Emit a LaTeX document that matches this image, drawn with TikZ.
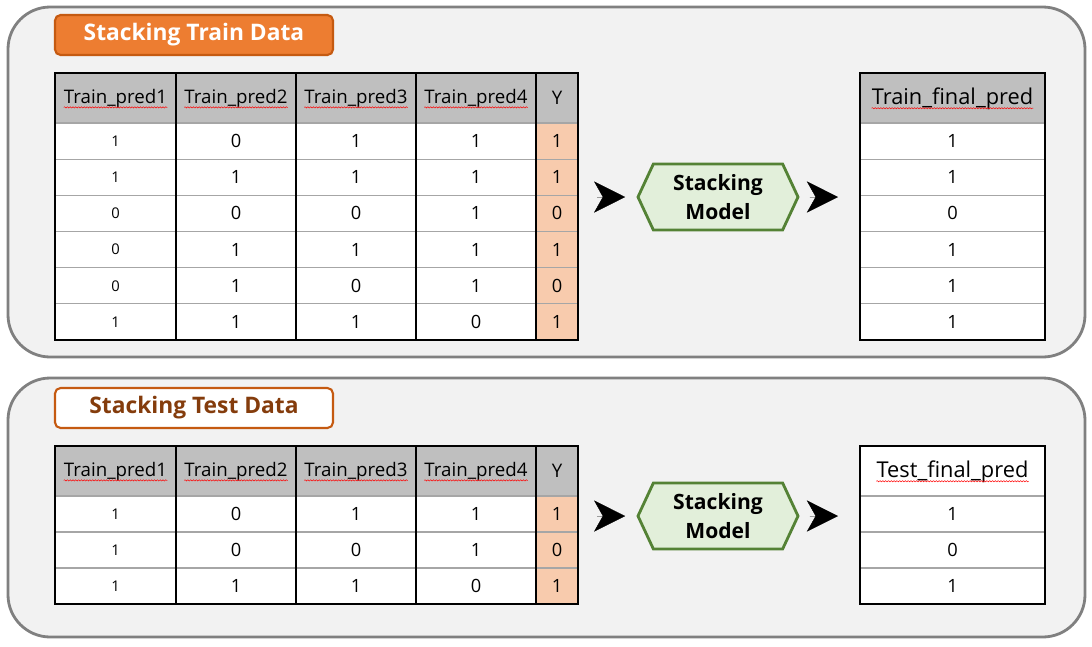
\documentclass[tikz,border=0pt]{standalone}
\usepackage{fontspec}
\setmainfont{Open Sans}
\usetikzlibrary{shapes.symbols,decorations.pathmorphing,arrows.meta}

\definecolor{panelgray}{HTML}{F2F2F2}
\definecolor{paneledge}{HTML}{808080}
\definecolor{headgray}{HTML}{BFBFBF}
\definecolor{ycol}{HTML}{F8CBAD}
\definecolor{orangefill}{HTML}{ED7D31}
\definecolor{orangeedge}{HTML}{C55A11}
\definecolor{titlebrown}{HTML}{843C0C}
\definecolor{modelfill}{HTML}{E2EFDA}
\definecolor{modeledge}{HTML}{548235}
\definecolor{rowline}{HTML}{A6A6A6}

\tikzset{
  panel/.style={draw=paneledge, line width=2pt, fill=panelgray, rounded corners=30pt},
  titlebox/.style={draw=orangeedge, line width=1.5pt, rounded corners=4pt,
    minimum width=6.95cm, minimum height=1cm, font=\fontsize{16.2}{19}\selectfont\bfseries},
  model/.style={signal, signal to=west and east, signal pointer angle=130,
    draw=modeledge, fill=modelfill, line width=2pt, minimum width=4cm, minimum height=1.65cm,
    inner sep=0pt, align=center, font=\fontsize{15}{21}\selectfont\bfseries},
  headtext/.style={inner sep=0pt, font=\fontsize{13.3}{16}\selectfont},
  celltext/.style={inner sep=0pt, font=\fontsize{13}{16}\selectfont},
  firsttext/.style={inner sep=0pt, font=\fontsize{10.5}{13}\selectfont},
  finaltext/.style={inner sep=0pt, font=\fontsize{15.5}{18}\selectfont},
  rowsep/.style={draw=rowline, line width=0.8pt},
  colsep/.style={draw=black, line width=0.8pt},
  tableedge/.style={draw=black, line width=1.2pt},
  squig/.style={draw=red, line width=0.35pt, decorate,
    decoration={snake, amplitude=0.45pt, segment length=2pt}},
  chev/.style={-{Stealth[length=0.78cm, width=0.78cm, inset=0.22cm, line width=0.3pt]}, line width=0.01pt}
}

\begin{document}
\begin{tikzpicture}[x=0.025cm, y=-0.025cm]
\useasboundingbox (0,0) rectangle (1092,646);

% panels
\draw[panel] (8,7) rectangle (1085,357);
\draw[panel] (8,378) rectangle (1085,637);

% titles
\node[titlebox, fill=orangefill, text=white] (trainTitle) at (194,35) {Stacking Train Data};
\node[titlebox, fill=white, text=titlebrown] (testTitle) at (194,408) {Stacking Test Data};

% ---- train table
\fill[headgray] (55,73) rectangle (578,123);
\fill[white] (55,123) rectangle (536,340);
\fill[ycol] (536,123) rectangle (578,340);
\foreach \r in {0,...,5}
  \draw[rowsep] (55,{123+36.17*\r}) -- (578,{123+36.17*\r});
\foreach \x in {176,296,416,536}
  \draw[colsep] (\x,73) -- (\x,340);
\draw[tableedge] (55,73) rectangle (578,340);

\foreach \t/\x [count=\i] in {Train\_pred1/115.5, Train\_pred2/236, Train\_pred3/356, Train\_pred4/476} {
  \node[headtext] (trh\i) at (\x,99) {\t};
  \draw[squig] ([yshift=-2.5pt]trh\i.base west) -- ([yshift=-2.5pt]trh\i.base east);
}
\node[headtext] (trhY) at (557,98) {Y};

\foreach \a/\b/\c/\d/\y [count=\r] in {1/0/1/1/1, 1/1/1/1/1, 0/0/0/1/0, 0/1/1/1/1, 0/1/0/1/0, 1/1/1/0/1} {
  \node[firsttext] (tr\r a) at (115.5,{123+36.17*(\r-0.5)}) {\a};
  \node[celltext] (tr\r b) at (236,{123+36.17*(\r-0.5)}) {\b};
  \node[celltext] (tr\r c) at (356,{123+36.17*(\r-0.5)}) {\c};
  \node[celltext] (tr\r d) at (476,{123+36.17*(\r-0.5)}) {\d};
  \node[celltext] (tr\r y) at (557,{123+36.17*(\r-0.5)}) {\y};
}

% train result
\fill[headgray] (860,73) rectangle (1045,123);
\fill[white] (860,123) rectangle (1045,340);
\foreach \r in {0,...,5}
  \draw[rowsep] (860,{123+36.17*\r}) -- (1045,{123+36.17*\r});
\draw[tableedge] (860,73) rectangle (1045,340);
\node[finaltext] (trFinal) at (952.5,99) {Train\_final\_pred};
\draw[squig] ([yshift=-2.5pt]trFinal.base west) -- ([yshift=-2.5pt]trFinal.base east);
\foreach \v [count=\r] in {1,1,0,1,1,1}
  \node[celltext] (trf\r) at (952.5,{123+36.17*(\r-0.5)}) {\v};

% train model
\node[model] (trainModel) at (718,197) {Stacking\\Model};
\coordinate (trainE) at (578,197);
\coordinate (trFinalW) at (860,197);
\draw[chev, shorten <=0.48cm, shorten >=0.28cm] (trainE) -- (trainModel.west);
\draw[chev, shorten <=0.25cm, shorten >=0.55cm] (trainModel.east) -- (trFinalW);

% ---- test table
\fill[headgray] (55,446) rectangle (578,496);
\fill[white] (55,496) rectangle (536,604);
\fill[ycol] (536,496) rectangle (578,604);
\foreach \r in {0,...,2}
  \draw[rowsep] (55,{496+36*\r}) -- (578,{496+36*\r});
\foreach \x in {176,296,416,536}
  \draw[colsep] (\x,446) -- (\x,604);
\draw[tableedge] (55,446) rectangle (578,604);

\foreach \t/\x [count=\i] in {Train\_pred1/115.5, Train\_pred2/236, Train\_pred3/356, Train\_pred4/476} {
  \node[headtext] (teh\i) at (\x,472) {\t};
  \draw[squig] ([yshift=-2.5pt]teh\i.base west) -- ([yshift=-2.5pt]teh\i.base east);
}
\node[headtext] (tehY) at (557,471) {Y};

\foreach \a/\b/\c/\d/\y [count=\r] in {1/0/1/1/1, 1/0/0/1/0, 1/1/1/0/1} {
  \node[firsttext] (te\r a) at (115.5,{496+36*(\r-0.5)}) {\a};
  \node[celltext] (te\r b) at (236,{496+36*(\r-0.5)}) {\b};
  \node[celltext] (te\r c) at (356,{496+36*(\r-0.5)}) {\c};
  \node[celltext] (te\r d) at (476,{496+36*(\r-0.5)}) {\d};
  \node[celltext] (te\r y) at (557,{496+36*(\r-0.5)}) {\y};
}

% test result
\fill[white] (860,446) rectangle (1045,604);
\foreach \r in {0,...,2}
  \draw[rowsep] (860,{496+36*\r}) -- (1045,{496+36*\r});
\draw[tableedge] (860,446) rectangle (1045,604);
\node[finaltext] (teFinal) at (952.5,472) {Test\_final\_pred};
\draw[squig] ([yshift=-2.5pt]teFinal.base west) -- ([yshift=-2.5pt]teFinal.base east);
\foreach \v [count=\r] in {1,0,1}
  \node[celltext] (tef\r) at (952.5,{496+36*(\r-0.5)}) {\v};

% test model
\node[model] (testModel) at (718,516) {Stacking\\Model};
\coordinate (testE) at (578,516);
\coordinate (teFinalW) at (860,516);
\draw[chev, shorten <=0.48cm, shorten >=0.28cm] (testE) -- (testModel.west);
\draw[chev, shorten <=0.25cm, shorten >=0.55cm] (testModel.east) -- (teFinalW);
\end{tikzpicture}
\end{document}
